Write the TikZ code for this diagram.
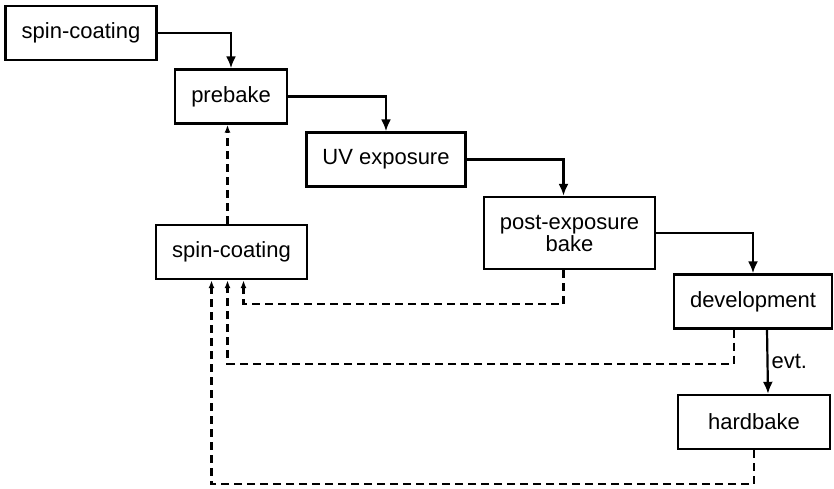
\documentclass[tikz,border=0pt]{standalone}
\usepackage{fontspec}
\setmainfont{Liberation Sans}
\usetikzlibrary{arrows.meta}

\tikzset{
  stepbox/.style={draw,line width=1.2pt,minimum height=27pt,inner xsep=8pt,inner ysep=2pt,font=\fontsize{11}{11}\selectfont},
  flow/.style={line width=1.1pt,-{Latex[length=6pt,width=5pt]}},
  back/.style={line width=1.1pt,dash pattern=on 4pt off 2.5pt,-{Latex[length=4pt,width=3pt]}}
}

\begin{document}
\begin{tikzpicture}[x=0.5pt,y=-0.5pt]
\useasboundingbox (0,0) rectangle (834,488);

% process steps
\node[stepbox] (spin1) at (81,33) {spin-coating};
\node[stepbox] (pre) at (231,96.5) {prebake};
\node[stepbox] (uv) at (386,159.5) {UV exposure};
\node[stepbox,align=center,minimum height=36pt] (peb) at (569.5,233) {post-exposure\\bake};
\node[stepbox] (dev) at (753,301.5) {development};
\node[stepbox,minimum width=76pt] (hb) at (754,422) {hardbake};
\node[stepbox] (spin2) at (231.5,252) {spin-coating};

% main flow
\draw[flow] (spin1.east) -| (pre.north);
\draw[flow] (pre.east) -| (uv.north);
\draw[flow] (uv.east) -| ([xshift=-3pt]peb.north);
\draw[flow] (peb.east) -| (dev.north);
\draw[flow] ([xshift=7pt]dev.south) -- node[right,inner sep=1.5pt,font=\fontsize{11}{11}\selectfont] {evt.} ([xshift=7pt]hb.north);

% rework loops
\coordinate (up) at ([xshift=-2pt]spin2.north);
\draw[back] (up) -- (up |- pre.south);
\draw[back] ([xshift=-3pt]peb.south) -- ++(0,34) -| ([xshift=6pt]spin2.south);
\draw[back] ([xshift=-9.5pt]dev.south) -- ++(0,34) -| ([xshift=-2pt]spin2.south);
\draw[back] (hb.south) -- ++(0,34) -| ([xshift=-10pt]spin2.south);
\end{tikzpicture}
\end{document}
